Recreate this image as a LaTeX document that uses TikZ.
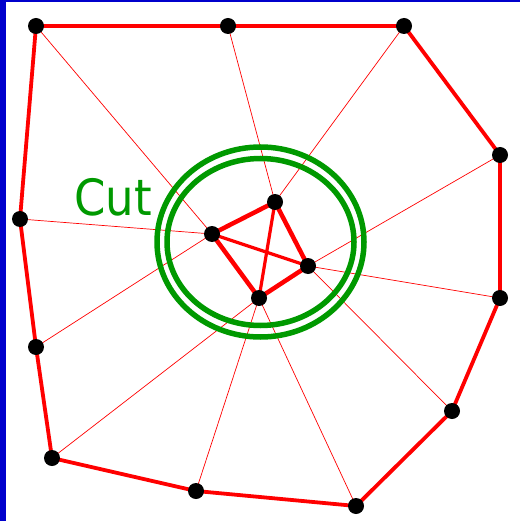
\documentclass[tikz,border=0pt]{standalone}
\usepackage{fontspec}
\setsansfont{DejaVu Sans}
\definecolor{frameblue}{RGB}{0,0,204}
\definecolor{cutgreen}{RGB}{0,153,0}
\begin{document}
\begin{tikzpicture}[x=1pt,y=-1pt,
    outer/.style={red, line width=3.8pt},
    inner/.style={red, line width=4.5pt},
    cross/.style={red, line width=3.2pt},
    spoke/.style={red, line width=0.7pt},
    ring/.style={cutgreen, line width=5.5pt}]
    \useasboundingbox (0,0) rectangle (520,521);
    \fill[frameblue] (0,0) rectangle (6,521);
    \fill[frameblue] (0,0) rectangle (520,2);
    % outer vertices
    \coordinate (a) at (36,26);
    \coordinate (b) at (228,26);
    \coordinate (c) at (404,26);
    \coordinate (d) at (500,155);
    \coordinate (e) at (500,298);
    \coordinate (f) at (452,411);
    \coordinate (g) at (356,506);
    \coordinate (h) at (196,491);
    \coordinate (i) at (52,458);
    \coordinate (j) at (36,347);
    \coordinate (k) at (20,219);
    % inner vertices
    \coordinate (p) at (212,234);
    \coordinate (q) at (275,202);
    \coordinate (r) at (308,266);
    \coordinate (s) at (259,298);
    \coordinate (cutc) at (260.5,242);
    % spokes
    \draw[spoke] (a) -- (p);
    \draw[spoke] (k) -- (p);
    \draw[spoke] (j) -- (p);
    \draw[spoke] (b) -- (q);
    \draw[spoke] (c) -- (q);
    \draw[spoke] (d) -- (r);
    \draw[spoke] (e) -- (r);
    \draw[spoke] (f) -- (r);
    \draw[spoke] (g) -- (s);
    \draw[spoke] (h) -- (s);
    \draw[spoke] (i) -- (s);
    % boundary
    \draw[outer, line join=round] (a) -- (b) -- (c) -- (d) -- (e) -- (f) -- (g) -- (h) -- (i) -- (j) -- (k) -- cycle;
    \draw[inner, line join=round] (p) -- (q) -- (r) -- (s) -- cycle;
    \draw[cross] (p) -- (r);
    \draw[cross] (q) -- (s);
    % cut
    \draw[ring] (cutc) ellipse [x radius=103.5pt, y radius=95pt];
    \draw[ring] (cutc) ellipse [x radius=93.5pt, y radius=83.5pt];
    \node[cutgreen, font=\sffamily\fontsize{50}{50}\selectfont, anchor=base west, inner sep=0pt] (cutlabel) at (74,215) {\scalebox{0.9}[1]{Cut}};
    % dots
    \foreach \v in {a,b,c,d,e,f,g,h,i,j,k,p,q,r,s}
        \fill (\v) circle (8pt);
\end{tikzpicture}
\end{document}
